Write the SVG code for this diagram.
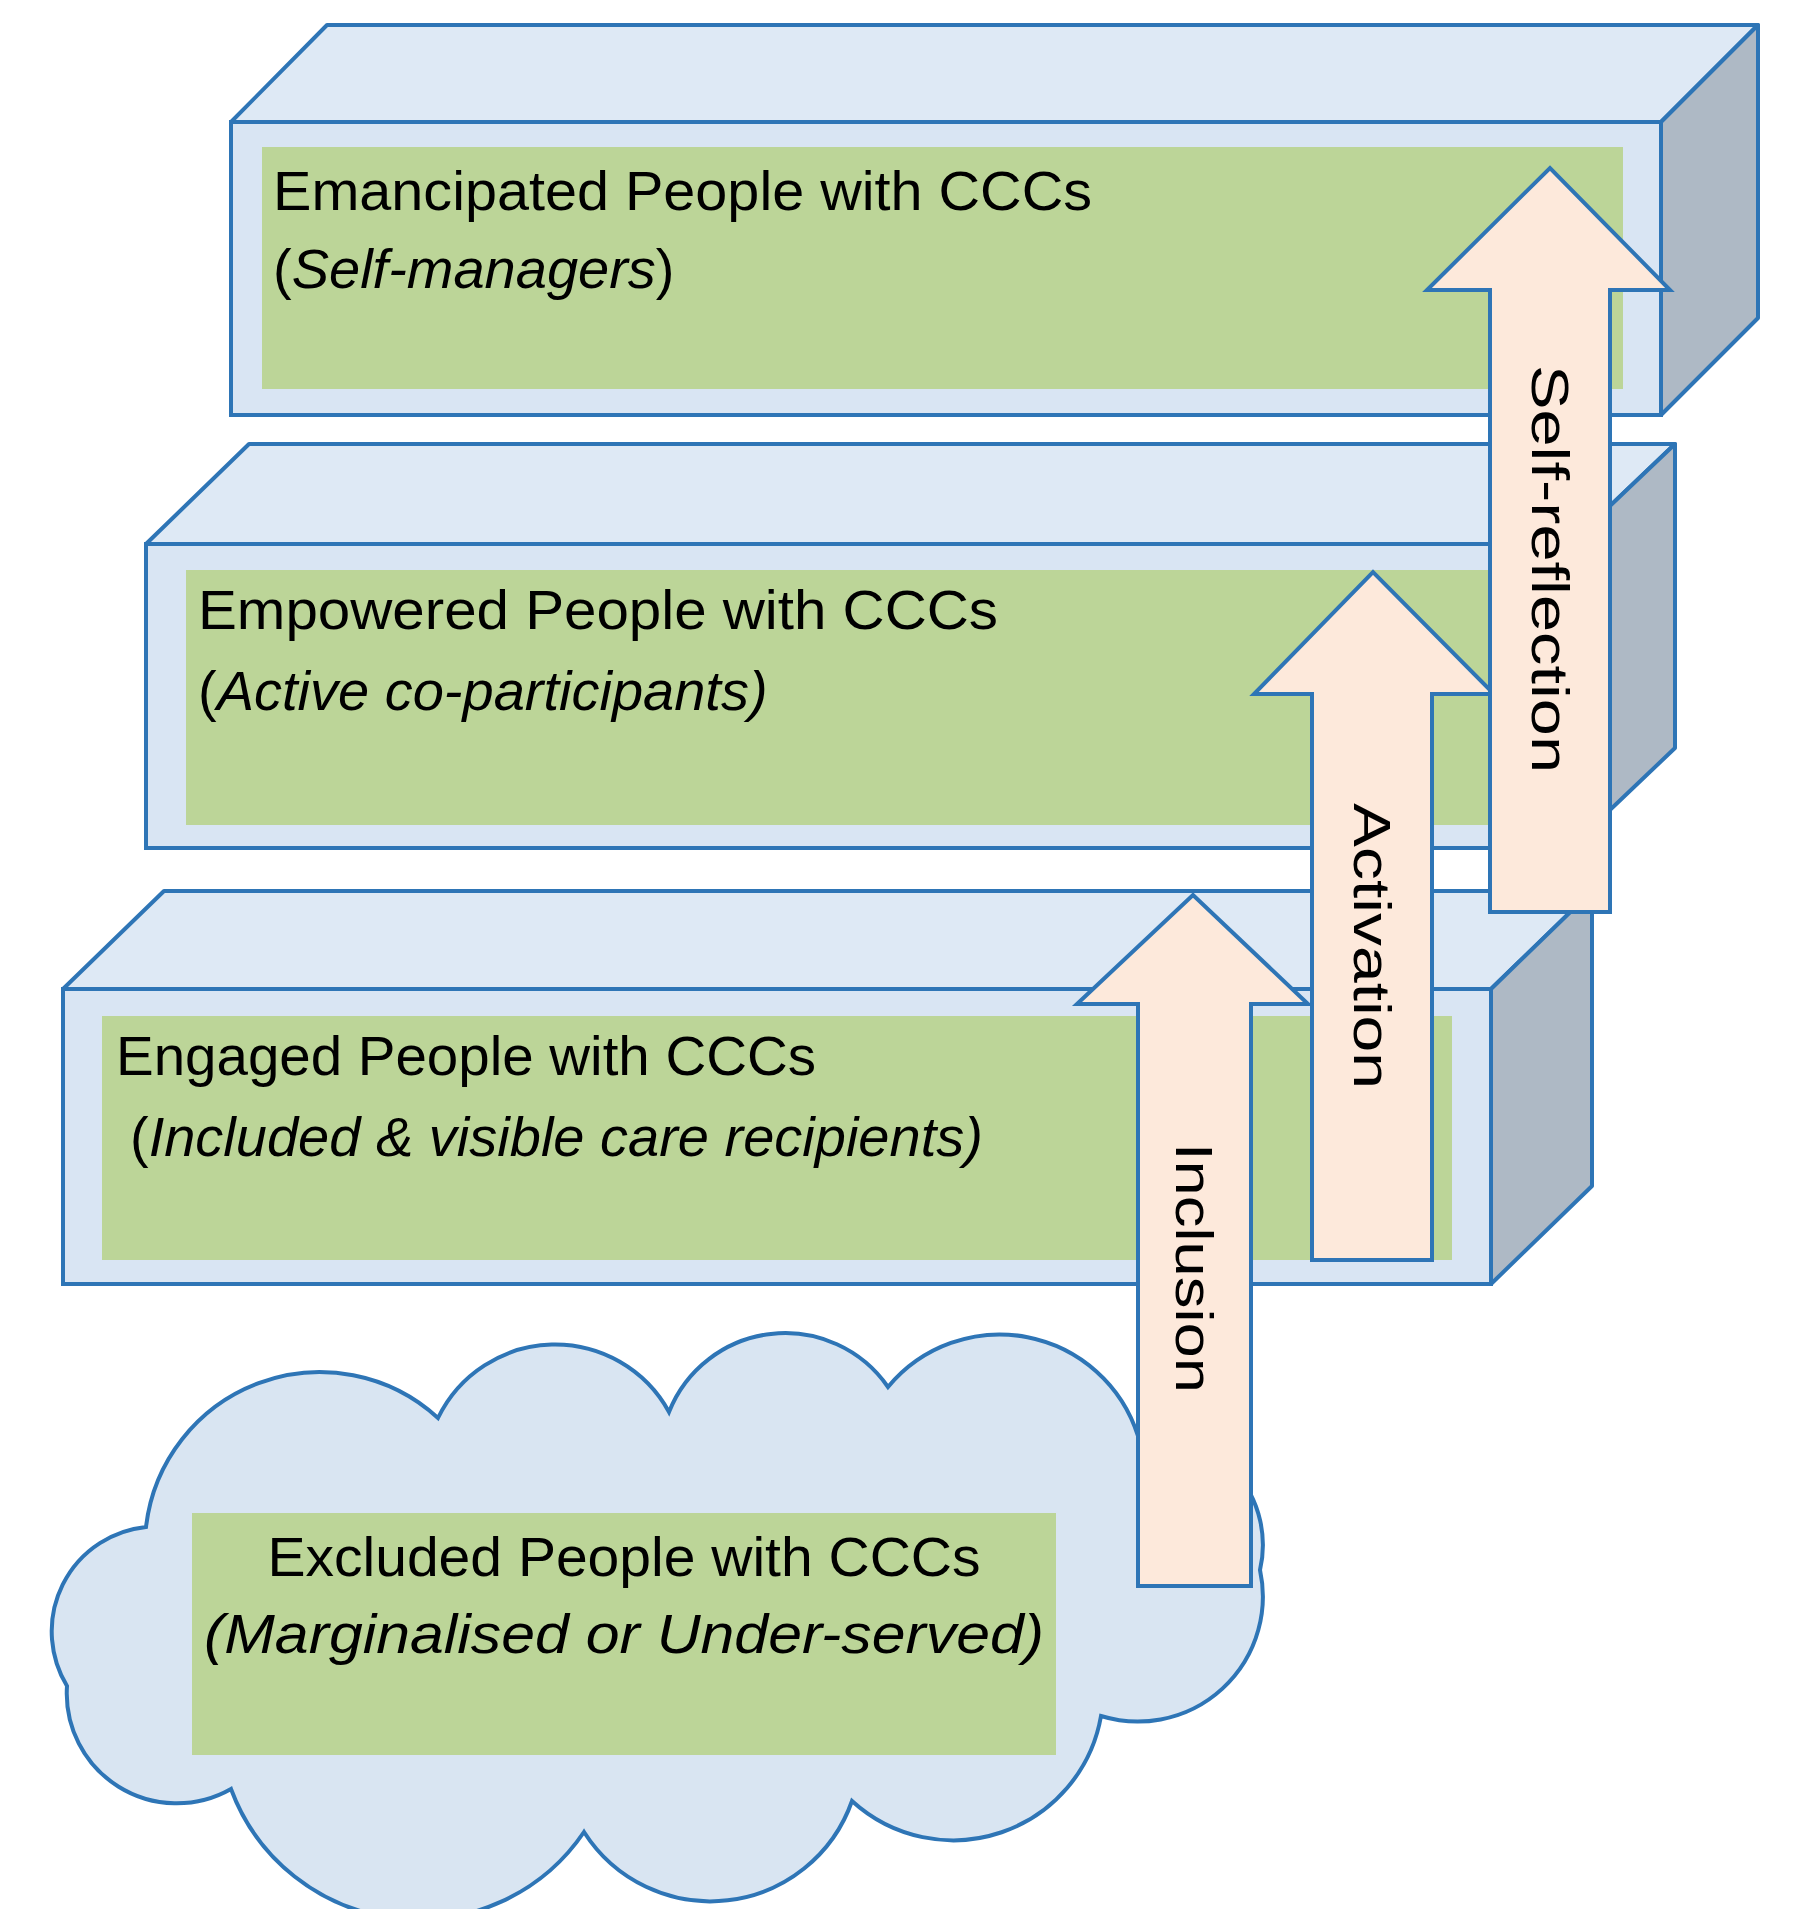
<svg xmlns="http://www.w3.org/2000/svg" width="1807" height="1909" viewBox="0 0 1807 1909">
<defs>
<style>
.top{fill:#dee9f5;stroke:#2e75b6;stroke-width:4;stroke-linejoin:round}
.front{fill:#d9e5f3;stroke:#2e75b6;stroke-width:4}
.side{fill:#aeb9c5;stroke:#2e75b6;stroke-width:4;stroke-linejoin:round}
.green{fill:#bcd598}
.arrow{fill:#fde9db;stroke:#2e75b6;stroke-width:4;stroke-linejoin:miter}
.t{font-family:"Liberation Sans",Arial,sans-serif;font-size:56px;fill:#000}
.i{font-style:italic}
.v{font-family:"Liberation Sans",Arial,sans-serif;font-size:52px;fill:#000}
</style>
</defs>
<g id="cloud">
<path d="M146,1527 A175,175 0 0 1 438,1418 A130,130 0 0 1 669,1412 A125,125 0 0 1 888,1387 A145,145 0 0 1 1138,1436 A110,110 0 0 1 1260,1570 A125,125 0 0 1 1101,1716 A150,150 0 0 1 852,1801 A150,150 0 0 1 584,1832 A200,200 0 0 1 231,1789 A110,110 0 0 1 67,1686 A105,105 0 0 1 146,1527 Z" fill="#d9e5f2" stroke="#2e75b6" stroke-width="4"/>
<rect class="green" x="192" y="1513" width="864" height="242"/>
<text class="t" x="624" y="1576" text-anchor="middle" textLength="713" lengthAdjust="spacingAndGlyphs">Excluded People with CCCs</text>
<text class="t i" x="624" y="1653" text-anchor="middle" textLength="840" lengthAdjust="spacingAndGlyphs">(Marginalised or Under-served)</text>
</g>
<g id="box1">
<polygon class="top" points="231,122 327,25 1758,25 1661,122"/>
<polygon class="side" points="1661,122 1758,25 1758,318 1661,415"/>
<rect class="front" x="231" y="122" width="1430" height="293"/>
<rect class="green" x="262" y="147" width="1361" height="242"/>
<text class="t" x="273" y="210" textLength="819" lengthAdjust="spacingAndGlyphs">Emancipated People with CCCs</text>
<text class="t" x="273" y="288">(<tspan class="i">Self-managers</tspan>)</text>
</g>
<g id="box2">
<polygon class="top" points="146,544 249,444 1675,444 1570,544"/>
<polygon class="side" points="1570,544 1675,444 1675,748 1570,848"/>
<rect class="front" x="146" y="544" width="1424" height="304"/>
<rect class="green" x="186" y="570" width="1314" height="255"/>
<text class="t" x="198" y="629" textLength="800" lengthAdjust="spacingAndGlyphs">Empowered People with CCCs</text>
<text class="t" x="198" y="710">(<tspan class="i">Active co-participants)</tspan></text>
</g>
<g id="box3">
<polygon class="top" points="63,989 164,891 1592,891 1491,989"/>
<polygon class="side" points="1491,989 1592,891 1592,1186 1491,1284"/>
<rect class="front" x="63" y="989" width="1428" height="295"/>
<rect class="green" x="102" y="1016" width="1350" height="244"/>
<text class="t" x="116" y="1075" textLength="700" lengthAdjust="spacingAndGlyphs">Engaged People with CCCs</text>
<text class="t" x="130" y="1156">(<tspan class="i">Included &amp; visible care recipients)</tspan></text>
</g>
<g id="connectors">
<g id="arrow-inclusion">
<polygon class="arrow" points="1138,1586 1138,1004 1077,1004 1193,895 1308,1004 1251,1004 1251,1586"/>
<text class="v" transform="translate(1194,1268) rotate(90)" text-anchor="middle" dominant-baseline="central" textLength="250" lengthAdjust="spacingAndGlyphs">Inclusion</text>
</g>
<g id="arrow-activation">
<polygon class="arrow" points="1312,1260 1312,694 1254,694 1373,572 1494,694 1432,694 1432,1260"/>
<text class="v" transform="translate(1372,946) rotate(90)" text-anchor="middle" dominant-baseline="central" textLength="286" lengthAdjust="spacingAndGlyphs">Activation</text>
</g>
<g id="arrow-selfreflection">
<polygon class="arrow" points="1490,912 1490,290 1427,290 1550,168 1670,290 1610,290 1610,912"/>
<text class="v" transform="translate(1550,569) rotate(90)" text-anchor="middle" dominant-baseline="central" textLength="408" lengthAdjust="spacingAndGlyphs">Self-reflection</text>
</g>
</g>
</svg>
